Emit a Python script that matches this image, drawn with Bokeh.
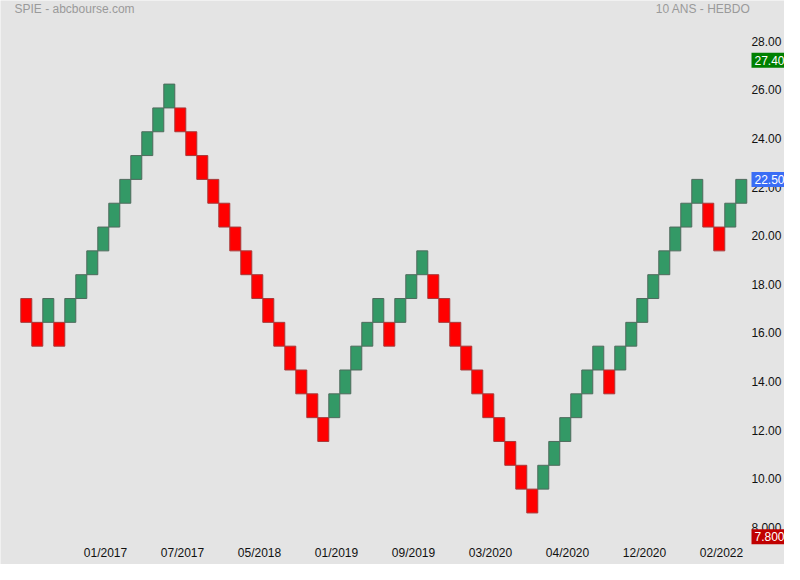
from bokeh.plotting import figure
from bokeh.models import Range1d, FixedTicker, Label, ColumnDataSource
from bokeh.embed import file_html
from bokeh.resources import INLINE

# ---- data ----
brick_size = 0.98
brick_low = [16.62, 15.64, 16.62, 15.64, 16.62, 17.60, 18.58, 19.56, 20.54, 21.52,
             22.50, 23.48, 24.46, 25.44, 24.46, 23.48, 22.50, 21.52, 20.54, 19.56,
             18.58, 17.60, 16.62, 15.64, 14.66, 13.68, 12.70, 11.72, 12.70, 13.68,
             14.66, 15.64, 16.62, 15.64, 16.62, 17.60, 18.58, 17.60, 16.62, 15.64,
             14.66, 13.68, 12.70, 11.72, 10.74, 9.76, 8.78, 9.76, 10.74, 11.72,
             12.70, 13.68, 14.66, 13.68, 14.66, 15.64, 16.62, 17.60, 18.58, 19.56,
             20.54, 21.52, 20.54, 19.56, 20.54, 21.52]
brick_dir = ["down", "down", "up", "down", "up", "up", "up", "up", "up", "up",
             "up", "up", "up", "up", "down", "down", "down", "down", "down", "down",
             "down", "down", "down", "down", "down", "down", "down", "down", "up", "up",
             "up", "up", "up", "down", "up", "up", "up", "down", "down", "down",
             "down", "down", "down", "down", "down", "down", "down", "up", "up", "up",
             "up", "up", "up", "down", "up", "up", "up", "up", "up", "up",
             "up", "up", "down", "down", "up", "up"]
date_tick_index = [7, 14, 21, 28, 35, 42, 49, 56, 63]
date_tick_labels = ["01/2017", "07/2017", "05/2018", "01/2019", "09/2019",
                    "03/2020", "04/2020", "12/2020", "02/2022"]
price_ticks = [8, 10, 12, 14, 16, 18, 20, 22, 24, 26, 28]
price_tick_labels = ["8.000", "10.00", "12.00", "14.00", "16.00", "18.00",
                     "20.00", "22.00", "24.00", "26.00", "28.00"]
last_price = 22.50
high_price = 27.40
low_price = 7.80
title_left = "SPIE - abcbourse.com"
title_right = "10 ANS - HEBDO"

# ---- styles ----
BG = "#e4e4e4"
UP_FILL, UP_LINE = "#339966", "#4f6b5d"
DN_FILL, DN_LINE = "#ff0000", "#a63a3a"
FONT = "Liberation Sans"

idx = list(range(len(brick_low)))
src = ColumnDataSource(dict(
    left=[i - 0.5 for i in idx],
    right=[i + 0.5 for i in idx],
    bottom=brick_low,
    top=[b + brick_size for b in brick_low],
    fill=[UP_FILL if d == "up" else DN_FILL for d in brick_dir],
    line=[UP_LINE if d == "up" else DN_LINE for d in brick_dir],
))

p = figure(width=784, height=564, output_backend="svg", toolbar_location=None,
           x_range=Range1d(-2.345, 68.93), y_range=Range1d(6.659, 29.859),
           y_axis_location="right",
           min_border_left=0, min_border_right=0, min_border_top=0, min_border_bottom=0,
           background_fill_color=BG, border_fill_color=BG, outline_line_color=None)
p.grid.visible = False
p.title.visible = False

p.quad(left="left", right="right", bottom="bottom", top="top", source=src,
       fill_color="fill", line_color="line", line_width=1)

# y axis on the right, drawn at a fixed place so the frame spans the whole canvas
shift = 0.185  # labels sit slightly above their level, as in the original
yt = [round(t + shift, 3) for t in price_ticks]
ya = p.yaxis[0]
ya.fixed_location = 65.65
ya.ticker = FixedTicker(ticks=yt)
ya.major_label_overrides = {t: lab for t, lab in zip(yt, price_tick_labels)}
ya.axis_line_color = None
ya.major_tick_line_color = None
ya.minor_tick_line_color = None
ya.major_tick_in = 0
ya.major_tick_out = 0
ya.minor_tick_in = 0
ya.minor_tick_out = 0
ya.major_label_standoff = 3
ya.major_label_text_font = FONT
ya.major_label_text_font_size = "12px"
ya.major_label_text_color = "#111111"

xt = [t + 0.2 for t in date_tick_index]
xa = p.xaxis[0]
xa.fixed_location = 7.564
xa.ticker = FixedTicker(ticks=xt)
xa.major_label_overrides = {t: lab for t, lab in zip(xt, date_tick_labels)}
xa.axis_line_color = None
xa.major_tick_line_color = None
xa.minor_tick_line_color = None
xa.major_tick_in = 0
xa.major_tick_out = 0
xa.minor_tick_in = 0
xa.minor_tick_out = 0
xa.major_label_standoff = 4
xa.major_label_text_font = FONT
xa.major_label_text_font_size = "12px"
xa.major_label_text_color = "#111111"

# titles
top_val = 29.777
p.add_layout(Label(x=14, x_units="screen", y=top_val, y_units="data", text=title_left,
                   text_align="left", text_baseline="top", text_font=FONT,
                   text_font_size="12px", text_color="#9a9a9a"))
p.add_layout(Label(x=750, x_units="screen", y=top_val, y_units="data", text=title_right,
                   text_align="right", text_baseline="top", text_font=FONT,
                   text_font_size="12px", text_color="#9a9a9a"))

# price markers
for val, txt, col in [(high_price, "27.40", "#008000"),
                      (last_price, "22.50", "#3a6df5"),
                      (low_price, "7.800", "#c00000")]:
    p.add_layout(Label(x=751, x_units="screen", y=val, y_units="data", text=txt,
                       text_align="left", text_baseline="middle",
                       text_font=FONT, text_font_size="12px", text_color="white",
                       background_fill_color=col, border_line_color=None,
                       padding=(3, 12, 3, 3)))

open("out.html", "w").write(file_html(p, INLINE))
